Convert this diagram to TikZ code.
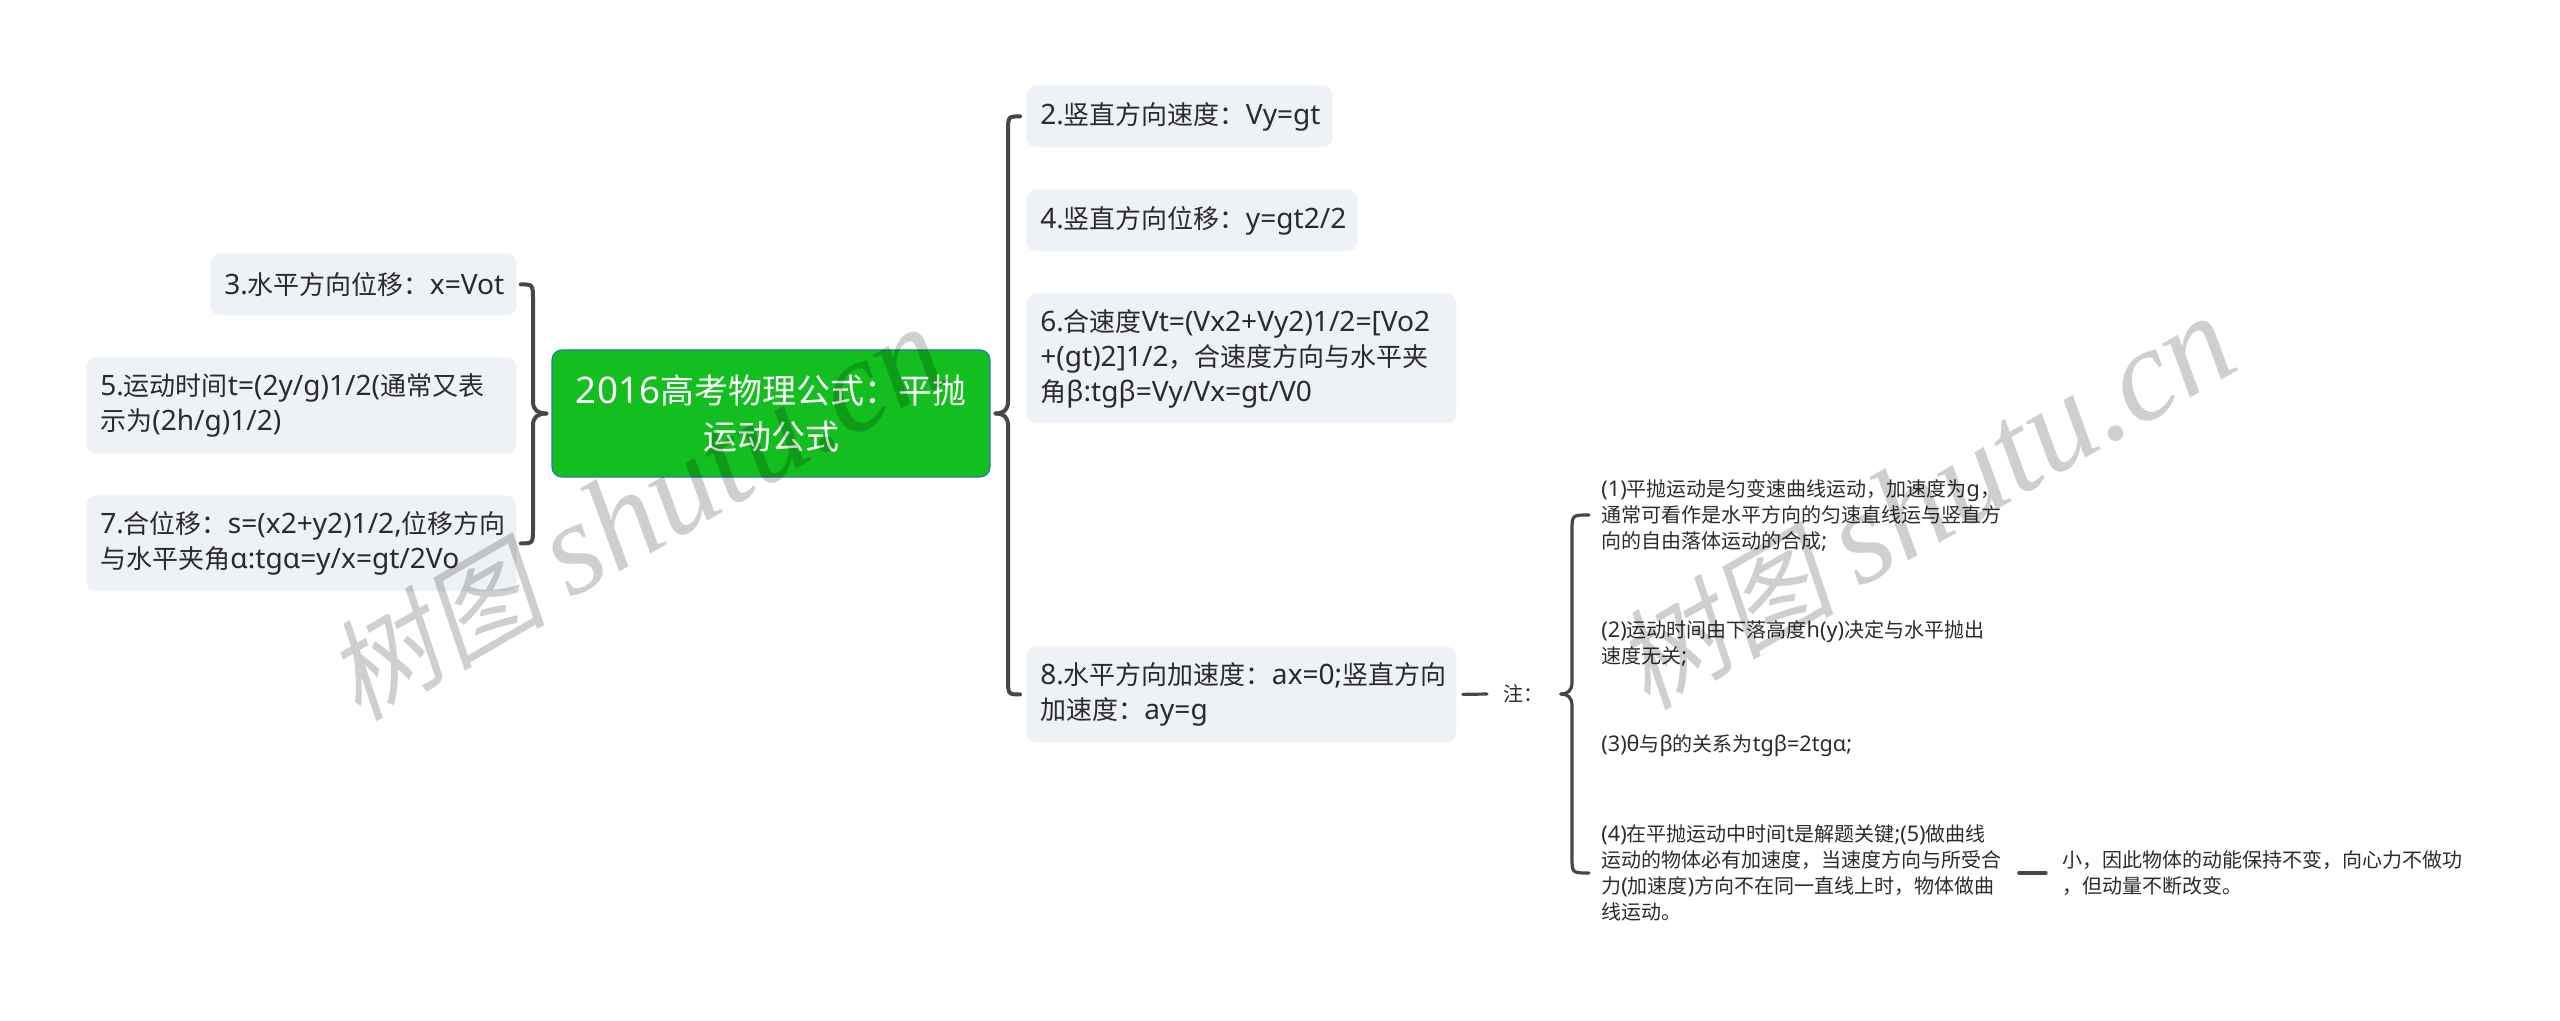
\documentclass[tikz,border=0pt]{standalone}
\usepackage{fontspec}
\setmainfont{Noto Sans}[Scale=1.08]
\newfontfamily\cjk{Noto Sans CJK SC}
\newfontfamily\markcjk[FakeSlant=0.2]{Noto Sans CJK SC}
\newfontfamily\marklatin{Liberation Serif}[ItalicFont=* Italic]
\usetikzlibrary{calc}

%chinese characters switch to the cjk family by themselves
\XeTeXinterchartokenstate=1
\newXeTeXintercharclass\cjkclass
\newcount\cjkchar
\cjkchar="4E00
\loop
  \XeTeXcharclass\cjkchar=\cjkclass
  \advance\cjkchar by 1
\ifnum\cjkchar<"A000 \repeat
\XeTeXcharclass"FF0C=\cjkclass
\XeTeXcharclass"FF1A=\cjkclass
\XeTeXcharclass"3002=\cjkclass
\XeTeXinterchartoks 0 \cjkclass={\cjk}
\XeTeXinterchartoks 4095 \cjkclass={\cjk}
\XeTeXinterchartoks \cjkclass 0={\rmfamily}
\XeTeXinterchartoks \cjkclass 4095={\rmfamily}

\definecolor{boxgray}{HTML}{EEF1F5}
\definecolor{rootgreen}{HTML}{12BF1E}
\definecolor{rootblue}{HTML}{1B7F9E}
\definecolor{linegray}{HTML}{474747}
\definecolor{textdark}{HTML}{2B2B2B}

\tikzset{
  leafbox/.style={fill=boxgray, rounded corners=5pt, anchor=north west, inner xsep=7pt, inner ysep=0pt,
    align=left, text=textdark, font=\fontsize{13}{17.5}\selectfont},
  rootbox/.style={fill=rootgreen, draw=rootblue, line width=0.6pt, rounded corners=5pt, inner sep=0pt,
    align=center, text=white, font=\fontsize{17}{23}\selectfont},
  notetext/.style={anchor=west, inner xsep=6pt, inner ysep=0pt, align=left, text=textdark,
    font=\fontsize{10}{13}\selectfont},
  branch/.style={draw=linegray, line width=2pt, line cap=round},
  thinbranch/.style={branch, line width=1.6pt},
  stamp/.style={rotate=30, text=black, opacity=0.19, inner sep=0pt}
}

% half of a brace: line style, leaf end, spine, tip, which way the spine runs
\newcommand{\bracearm}[5]{
  \draw[#1] (#2) .. controls (#2 -| #3) .. ($(#2 -| #3)+(0,#5*16)$)
    -- ($(#3)+(0,-#5*12)$) .. controls ($(#3)+(0,-#5*3)$) and ($(#3)!0.4!(#4)$) .. (#4);
}
\newcommand{\stamptext}{\XeTeXinterchartokenstate=0\fontsize{55}{60}\selectfont\markcjk 树图 \fontsize{66}{60}\selectfont\marklatin\itshape shutu.cn}

\begin{document}
\begin{tikzpicture}[x=0.5pt, y=-0.5pt]
\useasboundingbox (0,0) rectangle (2560,1021);

\node [rootbox, minimum width=219pt, minimum height=63.5pt] (root) at (771,413.5) {2016高考物理公式：平抛\\运动公式};

\foreach \nm/\x/\y/\w/\h/\val in {
  p3/210/253/139/31/{3.水平方向位移：x=Vot},
  p5/86/357/201/48/{5.运动时间t=(2y/g)1/2(通常又表\\示为(2h/g)1/2)},
  p7/86/495/201/48/{7.合位移：s=(x2+y2)1/2,位移方向\\与水平夹角α:tgα=y/x=gt/2Vo},
  p2/1026/85/139/31/{2.竖直方向速度：Vy=gt},
  p4/1026/189/151.5/31/{4.竖直方向位移：y=gt2/2},
  p6/1026/293/201/65/{6.合速度Vt=(Vx2+Vy2)1/2=[Vo2\\+(gt)2]1/2，合速度方向与水平夹\\角β:tgβ=Vy/Vx=gt/V0},
  p8/1026/646/201/48/{8.水平方向加速度：ax=0;竖直方向\\加速度：ay=g}}
\node [leafbox, text width=\w pt, minimum height=\h pt] (\nm) at (\x,\y) {\val};

\node [notetext, inner xsep=8pt] (zhu) at (1487,694) {注：};

\foreach \nm/\y/\val in {
  n1/515/{(1)平抛运动是匀变速曲线运动，加速度为g，\\通常可看作是水平方向的匀速直线运与竖直方\\向的自由落体运动的合成;},
  n2/643/{(2)运动时间由下落高度h(y)决定与水平抛出\\速度无关;},
  n3/746/{(3)θ与β的关系为tgβ=2tgα;},
  n4/873/{(4)在平抛运动中时间t是解题关键;(5)做曲线\\运动的物体必有加速度，当速度方向与所受合\\力(加速度)方向不在同一直线上时，物体做曲\\线运动。}}
\node [notetext] (\nm) at (1589,\y) {\val};

\node [notetext, inner xsep=8pt] (tail) at (2046,873) {小，因此物体的动能保持不变，向心力不做功\\，但动量不断改变。};

%left brace
\coordinate (sl) at (533,413.5);
\coordinate (tl) at ($(root.west)+(-5,0)$);
\coordinate (e3) at ($(p3.east)+(4,0)$);
\coordinate (e7) at ($(p7.east)+(4,0)$);
\bracearm{branch}{e3}{sl}{tl}{1}
\bracearm{branch}{e7}{sl}{tl}{-1}

%right brace
\coordinate (sr) at (1008,413.5);
\coordinate (tr) at ($(root.east)+(5,0)$);
\coordinate (e2) at ($(p2.west)+(-6,0)$);
\coordinate (e8) at ($(p8.west)+(-6,0)$);
\bracearm{branch}{e2}{sr}{tr}{1}
\bracearm{branch}{e8}{sr}{tr}{-1}

%note brace
\coordinate (sn) at (1572,694);
\coordinate (tn) at ($(zhu.east)+(1,0)$);
\bracearm{thinbranch}{n1.west}{sn}{tn}{1}
\bracearm{thinbranch}{n4.west}{sn}{tn}{-1}

\draw [thinbranch] ($(p8.east)+(6,0)$) -- (zhu.west);
\draw [thinbranch] ($(n4.east)+(5,0)$) -- (tail.west);

\node [stamp] (mark1) at (636,514) {\stamptext};
\node [stamp] (mark2) at (1925,503) {\stamptext};
\end{tikzpicture}
\end{document}
